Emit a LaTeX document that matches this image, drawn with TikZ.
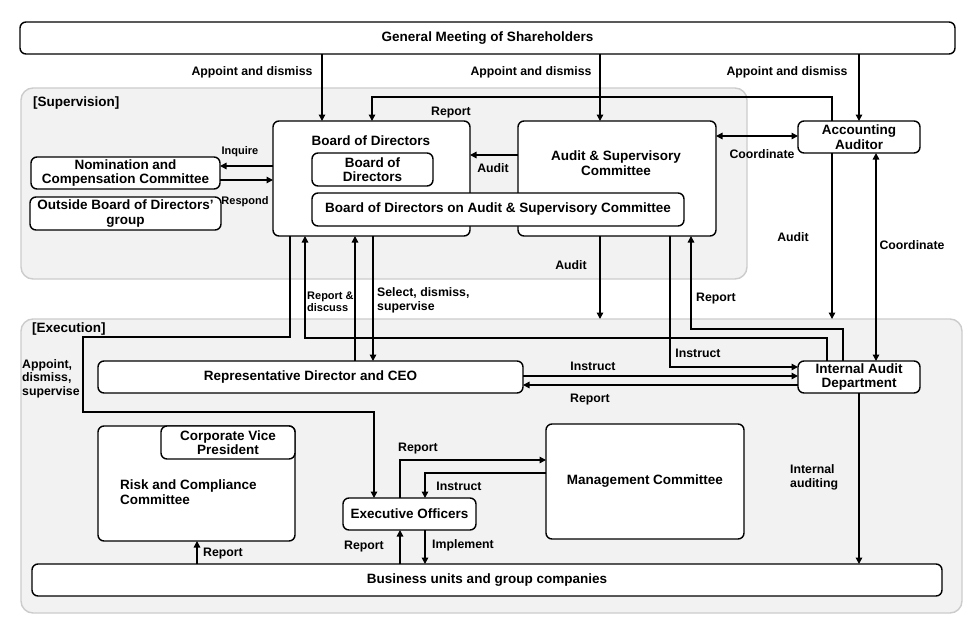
\documentclass[tikz,border=0pt]{standalone}
\usepackage{fontspec}
\setmainfont{Liberation Sans}
\usetikzlibrary{arrows.meta,calc}
\newcommand\mkbox[7][]{%
  \node[box,#1,minimum width={(#5-#3)*1pt},minimum height={(#6-#4)*1pt}] (#2) at ({(#3+#5)/2},{(#4+#6)/2}) {#7};}
\begin{document}
\begin{tikzpicture}[x=1pt,y=-1pt,
  box/.style={draw=black, fill=white, line width=1.4pt, rounded corners=6pt, inner sep=0pt, outer sep=0pt, align=center, font=\fontsize{13.5}{14.5}\selectfont\bfseries},
  panel/.style={draw=black!20, fill=black!5, line width=1.4pt, rounded corners=12pt},
  boxtxt/.style={inner sep=0pt, align=center, font=\fontsize{13.5}{14.5}\selectfont\bfseries},
  lbl/.style={inner sep=0pt, align=left, yshift=-1.5pt, font=\fontsize{12.3}{13.5}\selectfont\bfseries},
  slbl/.style={inner sep=0pt, align=left, yshift=-1.5pt, font=\fontsize{11}{12.5}\selectfont\bfseries},
  con/.style={draw=black, line width=1.4pt, -{Triangle[length=6.5pt,width=6.5pt]}},
  dcon/.style={draw=black, line width=1.4pt, {Triangle[length=6.5pt,width=6.5pt]}-{Triangle[length=6.5pt,width=6.5pt]}}]
\useasboundingbox (0,0) rectangle (980,637);
\fill[white] (0,0) rectangle (980,637);
% panels
\mkbox[panel]{sup}{21}{88}{747}{279}{}
\mkbox[panel]{exe}{21}{319}{962}{613}{}
\node[boxtxt, anchor=west] (suplbl) at (33,103) {[Supervision]};
\node[boxtxt, anchor=west] (exelbl) at (32,329) {[Execution]};
% boxes
\mkbox{gms}{20}{22}{955}{54}{General Meeting of Shareholders}
\mkbox{bod}{273}{121}{470}{236}{}
\mkbox{asc}{518}{121}{716}{236}{}
\node[boxtxt] (bodt) at (371,141) {Board of Directors};
\node[boxtxt] (asct) at (616,163) {Audit \& Supervisory\\Committee};
\mkbox{bodi}{312}{153}{433}{186}{Board of\\Directors}
\mkbox{bodac}{312}{193}{684}{226}{Board of Directors on Audit \& Supervisory Committee}
\mkbox{aa}{798}{121}{920}{153}{Accounting\\Auditor}
\mkbox{ncc}{31}{157}{220}{189}{Nomination and\\Compensation Committee}
\mkbox{obd}{30}{197}{221}{230}{Outside Board of Directors’\\group}
\mkbox{ceo}{98}{361}{523}{393}{Representative Director and CEO}
\mkbox{iad}{798}{361}{920}{393}{Internal Audit\\Department}
\mkbox{rcc}{98}{426}{295}{541}{}
\mkbox{cvp}{161}{426}{295}{459}{Corporate Vice\\President}
\node[boxtxt, align=left, anchor=west] (rcct) at (120,492) {Risk and Compliance\\Committee};
\mkbox{eo}{343}{498}{476}{530}{Executive Officers}
\mkbox{mc}{546}{424}{744}{539}{Management Committee}
\mkbox{bu}{32}{564}{942}{596}{Business units and group companies}
% connectors: shareholders
\draw[con] (gms.south -| 322,0) -- (bod.north -| 322,0);
\draw[con] (gms.south -| 600,0) -- (asc.north -| 600,0);
\draw[con] (gms.south -| 859,0) -- (aa.north -| 859,0);
% supervision
\draw[con] (aa.north -| 832,0) |- (372,97) -- (bod.north -| 372,0);
\draw[con] (asc.west |- 0,155) -- (bod.east |- 0,155);
\draw[dcon] (asc.east |- 0,136) -- (aa.west |- 0,136);
\draw[con] (bod.west |- 0,166) -- (ncc.east |- 0,166);
\draw[con] (ncc.east |- 0,180) -- (bod.west |- 0,180);
\draw[con] (aa.south -| 832,0) -- (exe.north -| 832,0);
\draw[dcon] (aa.south -| 876,0) -- (iad.north -| 876,0);
\draw[con] (asc.south -| 600,0) -- (exe.north -| 600,0);
\draw[con] (iad.north -| 843,0) |- (691,329) -- (asc.south -| 691,0);
\draw[con] (asc.south -| 670,0) |- (iad.west |- 0,367);
\draw[con] (iad.north -| 827,0) |- (305,338) -- (bod.south -| 305,0);
\draw[con] (ceo.north -| 355,0) -- (bod.south -| 355,0);
\draw[con] (bod.south -| 373,0) -- (ceo.north -| 373,0);
\draw[con] (bod.south -| 290,0) -- (290,337) -- (83,337) -- (83,412) -- (374,412) -- (eo.north -| 374,0);
% execution
\draw[con] (ceo.east |- 0,376) -- (iad.west |- 0,376);
\draw[con] (iad.west |- 0,385) -- (ceo.east |- 0,385);
\draw[con] (eo.north -| 400,0) |- (mc.west |- 0,460);
\draw[con] (mc.west |- 0,473) -| (eo.north -| 425,0);
\draw[con] (bu.north -| 400,0) -- (eo.south -| 400,0);
\draw[con] (eo.south -| 425,0) -- (bu.north -| 425,0);
\draw[con] (bu.north -| 197,0) -- (rcc.south -| 197,0);
\draw[con] (iad.south -| 859,0) -- (bu.north -| 859,0);
% labels
\node[lbl] (l1) at (252,71) {Appoint and dismiss};
\node[lbl] (l2) at (531,71) {Appoint and dismiss};
\node[lbl] (l3) at (787,71) {Appoint and dismiss};
\node[lbl] (l4) at (451,111) {Report};
\node[lbl] (l5) at (493,167) {Audit};
\node[lbl] (l6) at (762,153) {Coordinate};
\node[slbl] (l7) at (240,150) {Inquire};
\node[slbl] (l8) at (245,200) {Respond};
\node[lbl] (l9) at (793,236) {Audit};
\node[lbl] (l10) at (912,244) {Coordinate};
\node[lbl] (l11) at (571,264) {Audit};
\node[lbl] (l12) at (716,297) {Report};
\node[slbl, anchor=west] (l13) at (307,300) {Report \&\\discuss};
\node[lbl, anchor=west] (l14) at (377,299) {Select, dismiss,\\supervise};
\node[lbl] (l15) at (698,352) {Instruct};
\node[lbl] (l16) at (593,365) {Instruct};
\node[lbl] (l17) at (590,398) {Report};
\node[lbl, anchor=west] (l18) at (22,377) {Appoint,\\dismiss,\\supervise};
\node[lbl] (l19) at (418,447) {Report};
\node[lbl] (l20) at (459,485) {Instruct};
\node[lbl] (l21) at (364,545) {Report};
\node[lbl] (l22) at (463,544) {Implement};
\node[lbl] (l23) at (223,552) {Report};
\node[lbl, anchor=west] (l24) at (790,476) {Internal\\auditing};
\end{tikzpicture}
\end{document}
